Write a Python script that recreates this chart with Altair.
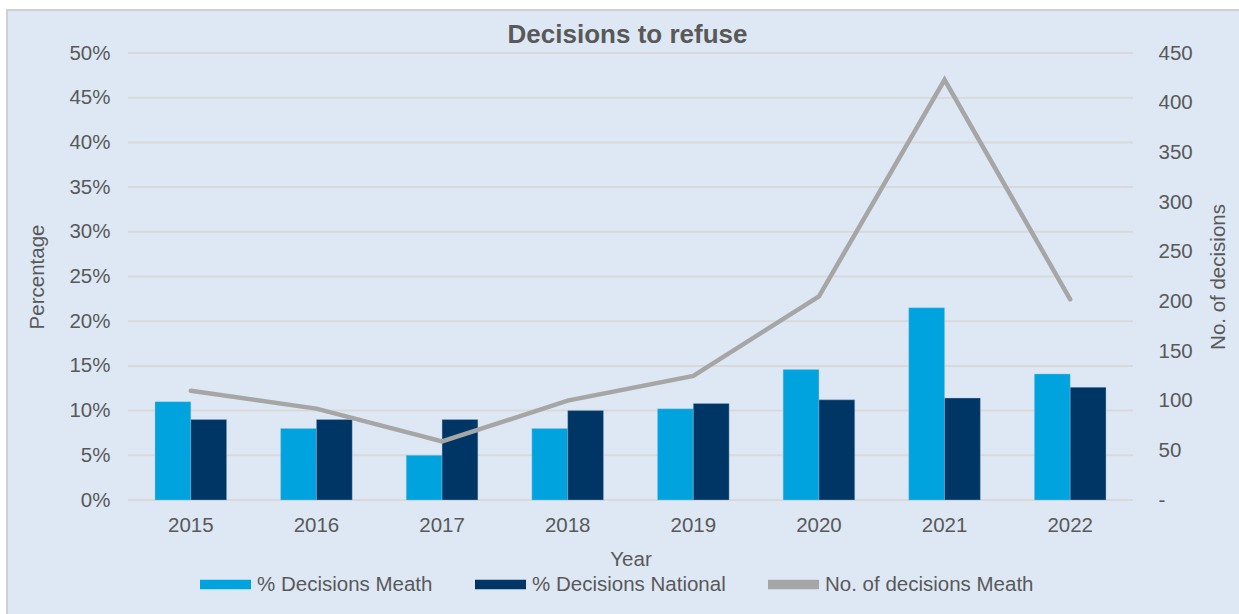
import altair as alt
import pandas as pd

# ---- data ----
years = ["2015", "2016", "2017", "2018", "2019", "2020", "2021", "2022"]
pct_meath = [0.110, 0.080, 0.050, 0.080, 0.102, 0.146, 0.215, 0.141]
pct_national = [0.090, 0.090, 0.090, 0.100, 0.108, 0.112, 0.114, 0.126]
num_meath = [110, 92, 59, 100, 125, 205, 423, 202]

series_names = ["% Decisions Meath", "% Decisions National", "No. of decisions Meath"]
series_colors = ["#00A3DD", "#003665", "#A6A6A6"]

pct_ticks = [0, 0.05, 0.10, 0.15, 0.20, 0.25, 0.30, 0.35, 0.40, 0.45, 0.50]
num_ticks = [0, 50, 100, 150, 200, 250, 300, 350, 400, 450]

FONT = "Liberation Sans"
TXT = "#595959"
BG = "#DEE8F4"
GRID = "#D9D9D9"
FS = 20.5

W, H = 1005, 447
LEFT, TOP = 128, 53

bars_df = pd.DataFrame(
    [{"year": y, "series": series_names[0], "value": v} for y, v in zip(years, pct_meath)]
    + [{"year": y, "series": series_names[1], "value": v} for y, v in zip(years, pct_national)]
)
line_df = pd.DataFrame({"year": years, "num": num_meath})
grid_df = pd.DataFrame({"tick": pct_ticks})

x_axis = alt.Axis(
    title="Year", labelAngle=0, labelPadding=15, titlePadding=14,
    ticks=False, domain=False, grid=False, zindex=1,
)
x_scale = alt.Scale(domain=years, paddingInner=0.43, paddingOuter=0.215)

# background panel (decoration)
panel = alt.Chart(alt.Data(values=[{}])).mark_rect(
    fill=BG, stroke="#D0D0D0", strokeWidth=2
).encode(
    x=alt.value(7 - LEFT), y=alt.value(10 - TOP),
    x2=alt.value(W + 400), y2=alt.value(H + 300),
)

grid = alt.Chart(grid_df).mark_rule(color=GRID, strokeWidth=2).encode(
    y=alt.Y("tick:Q", scale=alt.Scale(domain=[0, 0.5], nice=False, zero=True), axis=None)
)

bars = alt.Chart(bars_df).mark_bar(stroke="#9FC3E0", strokeWidth=0.6, strokeOpacity=0.6).encode(
    x=alt.X("year:N", sort=years, scale=x_scale, axis=x_axis),
    xOffset=alt.XOffset("series:N", sort=series_names[:2],
                        scale=alt.Scale(domain=series_names[:2], paddingInner=0, paddingOuter=0)),
    y=alt.Y(
        "value:Q",
        scale=alt.Scale(domain=[0, 0.5], nice=False, zero=True),
        axis=alt.Axis(
            orient="left", values=pct_ticks, format=".0%", title="Percentage",
            labelPadding=18, titlePadding=21, ticks=False, domain=False, grid=False, zindex=1,
        ),
    ),
    color=alt.Color(
        "series:N",
        scale=alt.Scale(domain=series_names, range=series_colors),
        legend=alt.Legend(
            title=None, orient="none", direction="horizontal", columns=3,
            legendX=200 - LEFT, legendY=573 - TOP - 14, padding=0,
            symbolType="M-1,-0.19H1V0.19H-1Z", symbolSize=2601, symbolStrokeWidth=0,
            labelFont=FONT, labelFontSize=FS, labelColor=TXT, labelOffset=6,
            labelLimit=500, columnPadding=42, zindex=1,
        ),
    ),
)

line = alt.Chart(line_df).mark_line(
    color="#A6A6A6", strokeWidth=4.5, strokeCap="round", strokeJoin="miter"
).encode(
    x=alt.X("year:N", sort=years, scale=x_scale, axis=x_axis),
    y=alt.Y(
        "num:Q",
        scale=alt.Scale(domain=[0, 450], nice=False, zero=True),
        axis=alt.Axis(
            orient="right", values=num_ticks, title="No. of decisions",
            labelExpr="datum.value == 0 ? '-' : datum.label",
            labelPadding=25, titlePadding=16, titleAngle=270, titleBaseline="top",
            ticks=False, domain=False, grid=False, zindex=1,
        ),
    ),
)

chart = (
    alt.layer(panel, grid, bars, line)
    .resolve_scale(y="independent")
    .properties(
        width=W, height=H,
        title=alt.TitleParams(
            "Decisions to refuse", font=FONT, fontSize=26, fontWeight="bold", color=TXT,
            anchor="middle", frame="group", baseline="alphabetic", offset=11, dx=-3, dy=71,
            zindex=1,
        ),
        background="#FFFFFF",
        padding={"left": LEFT, "top": TOP, "right": 1239 - LEFT - W, "bottom": 614 - TOP - H},
        autosize=alt.AutoSizeParams(type="none"),
    )
    .configure_view(stroke=None)
    .configure_axis(
        labelFont=FONT, labelFontSize=FS, labelColor=TXT,
        titleFont=FONT, titleFontSize=FS, titleFontWeight="normal", titleColor=TXT,
    )
)

chart.save("out.html", embed_options={"renderer": "svg", "actions": False})
